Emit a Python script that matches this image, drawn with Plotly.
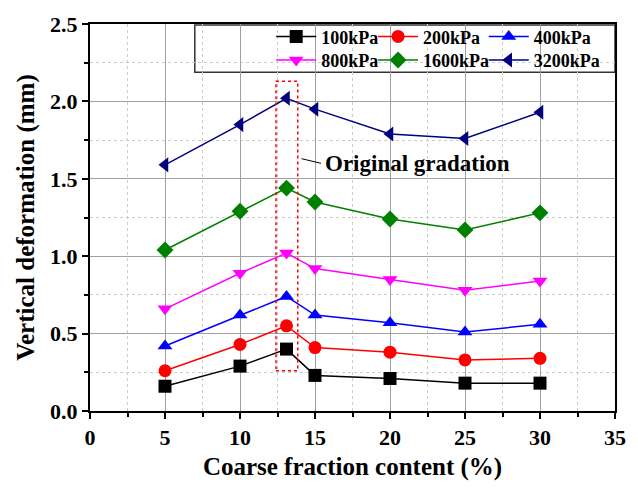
import plotly.graph_objects as go

x_vals = [5, 10, 13.1, 15, 20, 25, 30]
series_names = ["100kPa", "200kPa", "400kPa", "800kPa", "1600kPa", "3200kPa"]
y_100 = [0.16, 0.29, 0.40, 0.23, 0.21, 0.18, 0.18]
y_200 = [0.26, 0.43, 0.55, 0.41, 0.38, 0.33, 0.34]
y_400 = [0.42, 0.62, 0.74, 0.62, 0.57, 0.51, 0.56]
y_800 = [0.66, 0.89, 1.02, 0.92, 0.85, 0.78, 0.84]
y_1600 = [1.04, 1.29, 1.44, 1.35, 1.24, 1.17, 1.28]
y_3200 = [1.59, 1.85, 2.02, 1.95, 1.79, 1.76, 1.93]
all_y = [y_100, y_200, y_400, y_800, y_1600, y_3200]

colors = ["#000000", "#ff0000", "#0000ff", "#ff00ff", "#008000", "#000080"]
symbols = ["square", "circle", "triangle-up", "triangle-down", "diamond", "triangle-left"]

box_x = [12.4, 13.85]
box_y = [0.26, 2.13]

FONT = "Liberation Serif, Times New Roman, serif"

# plot area in pixels
L, R, T, B = 90, 12, 20, 74
W, H = 638, 488
PW, PH = W - L - R, H - T - B

def px_x(p):
    return (p - L) / PW

def px_y(p):
    return (H - B - p) / PH

# legend entry pixel positions (left of entry, row centre)
leg_cols = [275, 379, 492]
leg_rows = [33, 57]

fig = go.Figure()
layout_legends = {}
for i, (name, ys, c, s) in enumerate(zip(series_names, all_y, colors, symbols)):
    key = "legend" if i == 0 else f"legend{i + 1}"
    fig.add_trace(go.Scatter(
        x=x_vals, y=ys, name=name, mode="lines+markers",
        line=dict(color=c, width=1.5),
        marker=dict(symbol=s, size=13, color=c),
        legend=key,
    ))
    col, row = i % 3, i // 3
    layout_legends[key] = dict(
        x=px_x(leg_cols[col]), y=px_y(leg_rows[row]),
        xanchor="left", yanchor="middle",
        bgcolor="rgba(0,0,0,0)", borderwidth=0,
        font=dict(family=FONT, size=18, color="black", weight="bold"),
        itemwidth=40,
    )

# dotted red rectangle
fig.add_shape(type="rect", x0=box_x[0], x1=box_x[1], y0=box_y[0], y1=box_y[1],
              xref="x", yref="y", line=dict(color="red", width=1.5, dash="dot"))

fig.add_annotation(x=14.1, y=1.63, xref="x", yref="y", ax=21, ay=5,
                   text="", showarrow=True, arrowhead=0, arrowwidth=1, arrowcolor="black")
fig.add_annotation(x=15.55, y=1.60, xref="x", yref="y", text="Original gradation",
                   showarrow=False, xanchor="left", yanchor="middle",
                   font=dict(family=FONT, size=23, color="black", weight="bold"))

# legend box
fig.add_shape(type="rect", xref="paper", yref="paper",
              x0=px_x(197), x1=1.0, y0=px_y(69), y1=px_y(21),
              line=dict(color="#333", width=1.5), fillcolor="white", layer="below")

fig.update_layout(
    width=W, height=H,
    margin=dict(l=L, r=R, t=T, b=B),
    plot_bgcolor="white", paper_bgcolor="white",
    showlegend=True,
    **layout_legends,
    xaxis=dict(
        range=[0, 35], dtick=5, tick0=0,
        showgrid=True, gridcolor="#a0a0a0", gridwidth=1,
        showline=True, linecolor="black", linewidth=2, mirror=True,
        ticks="outside", ticklen=6, tickwidth=1.5, tickcolor="black",
        minor=dict(dtick=2.5, showgrid=True, gridcolor="#cccccc", griddash="dot",
                   ticks="outside", ticklen=4, tickcolor="black"),
        zeroline=False,
        tickfont=dict(family=FONT, size=22, color="black", weight="bold"),
        title=dict(text="Coarse fraction content (%)", standoff=8,
                   font=dict(family=FONT, size=25, color="black", weight="bold")),
    ),
    yaxis=dict(
        range=[0, 2.5], dtick=0.5, tick0=0, tickformat=".1f",
        showgrid=True, gridcolor="#a0a0a0", gridwidth=1,
        showline=True, linecolor="black", linewidth=2, mirror=True,
        ticks="outside", ticklen=6, tickwidth=1.5, tickcolor="black",
        minor=dict(dtick=0.25, showgrid=True, gridcolor="#cccccc", griddash="dot",
                   ticks="outside", ticklen=4, tickcolor="black"),
        zeroline=False,
        tickfont=dict(family=FONT, size=22, color="black", weight="bold"),
        title=dict(text="Vertical deformation (mm)", standoff=8,
                   font=dict(family=FONT, size=25, color="black", weight="bold")),
    ),
)

fig.write_html("out.html")
